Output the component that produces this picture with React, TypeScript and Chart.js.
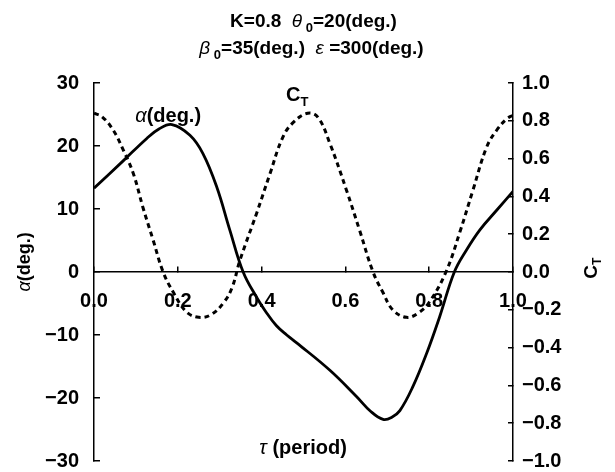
import React, { useEffect, useRef } from 'react';
import { Chart, registerables } from 'chart.js';

Chart.register(...registerables);

// ---- data ----
const tauAlpha = [0, 0.069, 0.126, 0.155, 0.186, 0.229, 0.26, 0.293, 0.324, 0.356, 0.388, 0.41, 0.435, 0.46, 0.483, 0.563, 0.627, 0.66, 0.69, 0.71, 0.73, 0.761, 0.794, 0.825, 0.86, 0.889, 0.921, 0.961, 1.0];
const alphaValues = [13.3, 17.6, 21.2, 22.7, 23.4, 21.7, 18.8, 13.5, 6.7, 0, -4.0, -6.3, -8.5, -10.0, -11.2, -15.6, -19.8, -22.1, -23.4, -23.1, -22.0, -18.2, -12.9, -7.1, 0, 3.5, 6.7, 9.8, 12.8];

const tauCT = [0, 0.02, 0.046, 0.07, 0.094, 0.117, 0.141, 0.165, 0.19, 0.22, 0.25, 0.28, 0.31, 0.33, 0.348, 0.388, 0.42, 0.45, 0.475, 0.51, 0.534, 0.563, 0.603, 0.634, 0.666, 0.69, 0.713, 0.746, 0.775, 0.8, 0.84, 0.873, 0.904, 0.937, 0.961, 0.985, 1.0];
const ctValues = [0.84, 0.82, 0.75, 0.645, 0.52, 0.34, 0.17, 0.0, -0.11, -0.21, -0.24, -0.225, -0.16, -0.08, 0.06, 0.31, 0.52, 0.71, 0.79, 0.84, 0.82, 0.68, 0.43, 0.22, 0.0, -0.11, -0.2, -0.24, -0.215, -0.16, 0.0, 0.21, 0.43, 0.66, 0.75, 0.81, 0.83];

const xTickLabels = ['0.0', '0.2', '0.4', '0.6', '0.8', '1.0'];
const alphaTickLabels = ['\u221230', '\u221220', '\u221210', '0', '10', '20', '30'];
const ctTickLabels = ['\u22121.0', '\u22120.8', '\u22120.6', '\u22120.4', '\u22120.2', '0.0', '0.2', '0.4', '0.6', '0.8', '1.0'];

const FAM = '"Liberation Sans", Arial, sans-serif';
const B = (s: number) => `bold ${s}px ${FAM}`;
const I = (s: number) => `italic ${s}px ${FAM}`;

type Seg = { t: string; f: string; dy?: number };

function drawRich(ctx: CanvasRenderingContext2D, segs: Seg[], x: number, y: number, base: number, rot = 0) {
  ctx.save();
  ctx.translate(x, y);
  ctx.rotate(rot);
  let w = 0;
  for (const s of segs) {
    ctx.font = s.f;
    w += ctx.measureText(s.t).width;
  }
  let cx = -w / 2;
  ctx.textAlign = 'left';
  ctx.textBaseline = 'alphabetic';
  ctx.fillStyle = '#000';
  for (const s of segs) {
    ctx.font = s.f;
    ctx.fillText(s.t, cx, base + (s.dy || 0));
    cx += ctx.measureText(s.t).width;
  }
  ctx.restore();
}

const textPlugin = {
  id: 'textPlugin',
  afterDraw(chart: any) {
    const ctx: CanvasRenderingContext2D = chart.ctx;
    const xs = chart.scales.x;
    const ys = chart.scales.y;
    const ca = chart.chartArea;
    const W = chart.width;
    // title
    drawRich(ctx, [
      { t: 'K=0.8  ', f: B(19) },
      { t: '\u03b8', f: I(19) },
      { t: ' 0', f: B(13), dy: 5 },
      { t: '=20(deg.)', f: B(19) },
    ], W / 2 + 6, 20, 7);
    drawRich(ctx, [
      { t: '\u03b2', f: I(19) },
      { t: ' 0', f: B(13), dy: 5 },
      { t: '=35(deg.)  ', f: B(19) },
      { t: '\u03b5', f: I(19) },
      { t: ' =300(deg.)', f: B(19) },
    ], W / 2 + 4, 47, 7);
    // in-plot labels
    drawRich(ctx, [
      { t: '\u03b1', f: I(20) },
      { t: '(deg.)', f: B(20) },
    ], xs.getPixelForValue(0.177), ys.getPixelForValue(24.9), 7);
    drawRich(ctx, [
      { t: 'C', f: B(20) },
      { t: 'T', f: B(13), dy: 5 },
    ], xs.getPixelForValue(0.485), ys.getPixelForValue(28.2), 7);
    drawRich(ctx, [
      { t: '\u03c4', f: I(20) },
      { t: ' (period)', f: B(20) },
    ], xs.getPixelForValue(0.499), ys.getPixelForValue(-27.8), 7);
    // axis titles
    drawRich(ctx, [
      { t: '\u03b1', f: I(18) },
      { t: '(deg.)', f: B(18) },
    ], ca.left - 71, ys.getPixelForValue(1.6), 7, -Math.PI / 2);
    drawRich(ctx, [
      { t: 'C', f: B(19) },
      { t: 'T', f: B(12), dy: 4 },
    ], ca.right + 77, ys.getPixelForValue(0.6), 7, -Math.PI / 2);
  },
};

export default function App() {
  const ref = useRef<HTMLCanvasElement | null>(null);

  useEffect(() => {
    if (!ref.current) return;
    const tickFont = { family: FAM, size: 20, weight: 'bold' as const };
    const chart = new Chart(ref.current, {
      type: 'line',
      data: {
        datasets: [
          {
            label: 'alpha',
            data: tauAlpha.map((t, i) => ({ x: t, y: alphaValues[i] })),
            yAxisID: 'y',
            borderColor: '#000',
            borderWidth: 2.8,
            pointRadius: 0,
            fill: false,
            tension: 0.4,
          },
          {
            label: 'CT',
            data: tauCT.map((t, i) => ({ x: t, y: ctValues[i] })),
            yAxisID: 'y1',
            borderColor: '#000',
            borderWidth: 3,
            borderDash: [5, 4],
            pointRadius: 0,
            fill: false,
            tension: 0.4,
          },
        ],
      },
      options: {
        responsive: false,
        animation: false,
        devicePixelRatio: 1,
        layout: { padding: { top: 83, bottom: 11, left: 0, right: 0 } },
        plugins: {
          legend: { display: false },
          title: { display: false },
          tooltip: { enabled: false },
        },
        scales: {
          x: {
            type: 'linear',
            min: 0,
            max: 1,
            position: { y: 0 } as any,
            ticks: {
              stepSize: 0.2,
              padding: 23,
              autoSkip: false,
              maxRotation: 0,
              color: '#000',
              font: tickFont,
              callback: (_v: any, i: number) => xTickLabels[i],
            },
            grid: { drawOnChartArea: false, tickLength: -6, color: '#000', lineWidth: 1.5 },
            border: { color: '#000', width: 1.5 },
            afterFit: (s: any) => { s.height = 0; s.paddingLeft = 0; s.paddingRight = 0; },
          },
          y: {
            position: 'left',
            min: -30,
            max: 30,
            ticks: {
              stepSize: 10,
              padding: 21,
              color: '#000',
              font: tickFont,
              callback: (_v: any, i: number) => alphaTickLabels[i],
            },
            grid: { drawOnChartArea: false, tickLength: -6, color: '#000', lineWidth: 1.5 },
            border: { color: '#000', width: 1.5 },
            afterFit: (s: any) => { s.width = 94; s.paddingTop = 0; s.paddingBottom = 0; },
          },
          y1: {
            position: 'right',
            min: -1,
            max: 1,
            ticks: {
              stepSize: 0.2,
              padding: 14,
              color: '#000',
              font: tickFont,
              callback: (_v: any, i: number) => ctTickLabels[i],
            },
            grid: { drawOnChartArea: false, tickLength: -5, color: '#000', lineWidth: 1.5 },
            border: { color: '#000', width: 1.5 },
            afterFit: (s: any) => { s.width = 102; s.paddingTop = 0; s.paddingBottom = 0; },
          },
        },
      } as any,
      plugins: [textPlugin],
    });
    return () => chart.destroy();
  }, []);

  return (
    <div style={{ position: 'absolute', left: 0, top: 0, width: 615, height: 472, background: '#fff' }}>
      <canvas ref={ref} width={615} height={472} style={{ width: 615, height: 472 }} />
    </div>
  );
}
